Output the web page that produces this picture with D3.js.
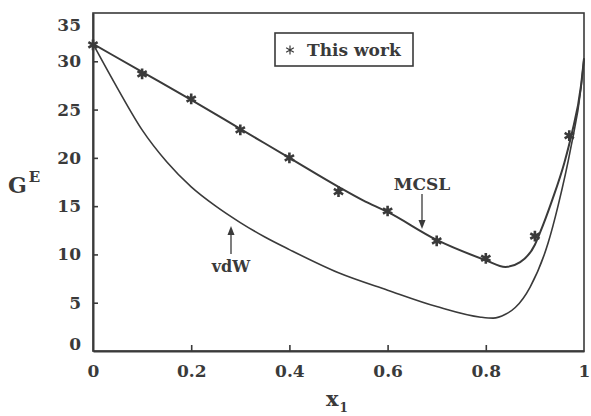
<!DOCTYPE html>
<html>
<head>
<meta charset="utf-8">
<script src="https://cdn.jsdelivr.net/npm/d3@7"></script>
<style>
  html, body { margin: 0; padding: 0; background: #fff; }
  svg { display: block; }
  text { font-family: "DejaVu Serif", "Liberation Serif", serif; font-weight: bold; fill: #3a3a3a; }
</style>
</head>
<body>
<svg id="chart" width="591" height="416"></svg>
<script>
// ---- data ----
const xTicks = [0, 0.2, 0.4, 0.6, 0.8, 1];
const xTickLabels = ["0", "0.2", "0.4", "0.6", "0.8", "1"];
const yTicks = [0, 5, 10, 15, 20, 25, 30, 35];

// MCSL model curve (x1, GE)
const mcslX = [0, 0.1, 0.2, 0.3, 0.4, 0.5, 0.55, 0.6, 0.7, 0.8, 0.84, 0.87, 0.9, 0.91, 0.935, 0.96, 0.975, 0.994, 1.0];
const mcslY = [31.8, 28.9, 26.0, 23.0, 20.0, 17.0, 15.6, 14.4, 11.5, 9.4, 8.7, 9.2, 11.0, 12.2, 15.6, 19.5, 22.5, 27.5, 30.3];

// vdW model curve
const vdwX = [0, 0.05, 0.1, 0.15, 0.2, 0.25, 0.3, 0.35, 0.4, 0.5, 0.6, 0.7, 0.79, 0.815, 0.84, 0.86, 0.89, 0.927, 0.947, 0.973, 0.994, 1.0];
const vdwY = [31.8, 27.2, 22.9, 19.6, 17.0, 15.0, 13.3, 11.8, 10.5, 8.1, 6.3, 4.6, 3.5, 3.4, 3.8, 4.5, 6.6, 11.2, 15.0, 21.0, 27.3, 30.3];

// This work (experimental points)
const workX = [0, 0.1, 0.2, 0.3, 0.4, 0.5, 0.6, 0.7, 0.8, 0.9, 0.97];
const workY = [31.7, 28.7, 26.1, 22.9, 20.0, 16.5, 14.5, 11.4, 9.6, 11.9, 22.3];

// ---- layout ----
const ink = "#3a3a3a";
const svg = d3.select("#chart");
const x = d3.scaleLinear().domain([0, 1]).range([93, 584]);
const y = d3.scaleLinear().domain([0, 35]).range([351, 13]);

// frame
svg.append("rect")
  .attr("x", x(0)).attr("y", y(35))
  .attr("width", x(1) - x(0)).attr("height", y(0) - y(35))
  .attr("fill", "none").attr("stroke", ink).attr("stroke-width", 1.6);

// axes
const xAxis = d3.axisBottom(x).tickValues(xTicks)
  .tickFormat((d, i) => xTickLabels[i]).tickSizeInner(-6).tickSizeOuter(0).tickPadding(14);
const gx = svg.append("g").attr("transform", `translate(0,${y(0)})`).call(xAxis);
gx.select(".domain").attr("stroke", ink).attr("stroke-width", 2.2);
gx.selectAll(".tick line").attr("stroke", ink).attr("stroke-width", 1.6)
  .attr("display", d => (d === 0 || d === 1) ? "none" : null);
gx.selectAll(".tick text").attr("font-size", 17).attr("fill", ink)
  .attr("font-family", "DejaVu Serif").attr("font-weight", "bold");

const yAxis = d3.axisLeft(y).tickValues(yTicks).tickFormat(d3.format("d"))
  .tickSizeInner(-5).tickSizeOuter(0).tickPadding(12);
const gy = svg.append("g").attr("transform", `translate(${x(0)},0)`).call(yAxis);
gy.select(".domain").attr("stroke", ink).attr("stroke-width", 2);
gy.selectAll(".tick line").attr("stroke", ink).attr("stroke-width", 1.6)
  .attr("display", d => (d === 0 || d === 35) ? "none" : null);
gy.selectAll(".tick text").attr("font-size", 17).attr("fill", ink)
  .attr("font-family", "DejaVu Serif").attr("font-weight", "bold")
  .attr("dy", d => d === 35 ? "1.0em" : d === 0 ? "-0.1em" : "0.32em");

// curves
const line = d3.line().x(d => x(d[0])).y(d => y(d[1])).curve(d3.curveMonotoneX);
svg.append("path").datum(mcslX.map((v, i) => [v, mcslY[i]]))
  .attr("d", line).attr("fill", "none").attr("stroke", ink).attr("stroke-width", 2);
svg.append("path").datum(vdwX.map((v, i) => [v, vdwY[i]]))
  .attr("d", line).attr("fill", "none").attr("stroke", ink).attr("stroke-width", 1.6);

// markers
const star = d3.symbol().type(d3.symbolAsterisk).size(80);
svg.append("g").selectAll("path").data(workX.map((v, i) => [v, workY[i]])).join("path")
  .attr("d", star).attr("transform", d => `translate(${x(d[0])},${y(d[1])})`)
  .attr("fill", "none").attr("stroke", ink).attr("stroke-width", 2.6);

// legend
svg.append("rect").attr("x", 275).attr("y", 33).attr("width", 138).attr("height", 33)
  .attr("fill", "#fff").attr("stroke", ink).attr("stroke-width", 1.6);
svg.append("path").attr("d", d3.symbol().type(d3.symbolAsterisk).size(55)())
  .attr("transform", "translate(290,50)").attr("fill", "none").attr("stroke", ink).attr("stroke-width", 1.2);
svg.append("text").attr("x", 307).attr("y", 56).attr("font-size", 17).text("This work");

// annotations
svg.append("text").attr("x", 422).attr("y", 190).attr("text-anchor", "middle").attr("font-size", 17).text("MCSL");
svg.append("line").attr("x1", 422).attr("y1", 194).attr("x2", 422).attr("y2", 226)
  .attr("stroke", ink).attr("stroke-width", 1.3);
svg.append("path").attr("d", "M418.5,220 L422,229 L425.5,220 Z").attr("fill", ink);

svg.append("text").attr("x", 231).attr("y", 272).attr("text-anchor", "middle").attr("font-size", 16).text("vdW");
svg.append("line").attr("x1", 231).attr("y1", 254).attr("x2", 231).attr("y2", 230)
  .attr("stroke", ink).attr("stroke-width", 1.3);
svg.append("path").attr("d", "M227.5,235 L231,226 L234.5,235 Z").attr("fill", ink);

// axis titles
const gt = svg.append("text").attr("x", 8).attr("y", 193).attr("font-size", 22);
gt.append("tspan").text("G");
gt.append("tspan").attr("font-size", 15).attr("dy", -11).attr("dx", 2).text("E");

const xt = svg.append("text").attr("x", 326).attr("y", 406).attr("font-size", 21);
xt.append("tspan").text("x");
xt.append("tspan").attr("font-size", 12).attr("dy", 6).attr("dx", 1).text("1");
</script>
</body>
</html>
